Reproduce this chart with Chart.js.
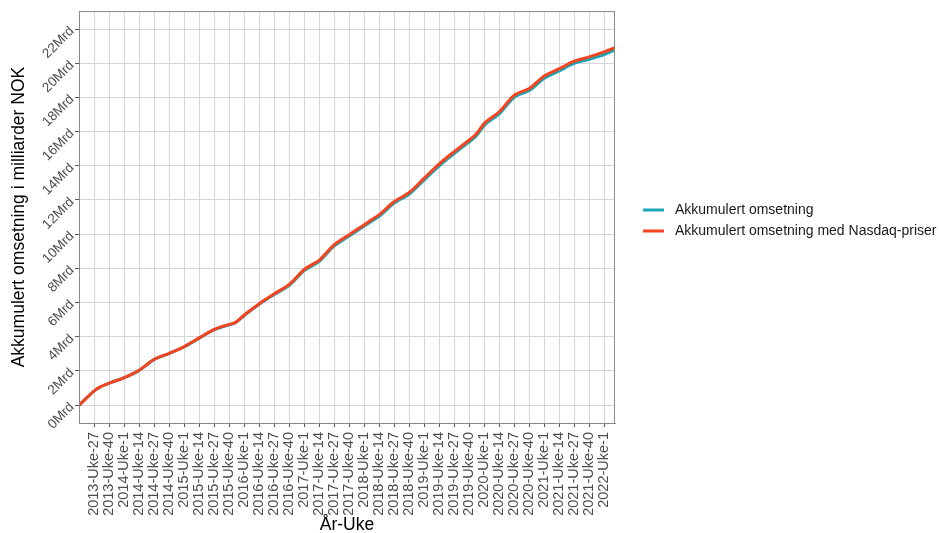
<!DOCTYPE html>
<html>
<head>
<meta charset="utf-8">
<script src="https://cdn.jsdelivr.net/npm/chart.js@4"></script>
<style>
  html, body { margin: 0; padding: 0; background: #fff; }
  #wrap { width: 939px; height: 533px; }
</style>
</head>
<body>
<div id="wrap"><canvas id="chart" width="939" height="533"></canvas></div>
<script>
// uke-indeks relativt til 2013-Uke-27
const uker = [-13, 0, 4, 13, 26, 39, 52, 65, 78, 91, 104, 117, 122, 130, 143, 156, 169, 182, 195, 208, 221, 234, 240, 247, 260, 273, 286, 299, 312, 325, 331, 338, 351, 364, 377, 390, 403, 416, 429, 442, 451];

// milliarder NOK
const omsetning = [0, 0.83, 1.02, 1.28, 1.6, 2.03, 2.67, 3.02, 3.41, 3.91, 4.41, 4.7, 4.8, 5.24, 5.9, 6.47, 7.01, 7.87, 8.41, 9.31, 9.89, 10.47, 10.74, 11.05, 11.82, 12.35, 13.18, 14.0, 14.72, 15.4, 15.75, 16.36, 17.04, 18.01, 18.4, 19.12, 19.55, 19.99, 20.23, 20.51, 20.76];
const omsetningNasdaq = [0, 0.83, 1.02, 1.28, 1.61, 2.04, 2.68, 3.03, 3.42, 3.93, 4.43, 4.72, 4.82, 5.27, 5.93, 6.51, 7.06, 7.93, 8.48, 9.39, 9.97, 10.55, 10.83, 11.14, 11.91, 12.44, 13.28, 14.11, 14.83, 15.51, 15.86, 16.48, 17.16, 18.13, 18.52, 19.25, 19.68, 20.12, 20.37, 20.66, 20.9];

const xTickUker = [0, 13, 26, 39, 52, 65, 78, 91, 104, 117, 130, 143, 156, 169, 182, 195, 208, 221, 234, 247, 260, 273, 286, 299, 312, 325, 338, 351, 364, 377, 390, 403, 416, 429, 442];
const xTickLabels = [
  "2013-Uke-27", "2013-Uke-40",
  "2014-Uke-1", "2014-Uke-14", "2014-Uke-27", "2014-Uke-40",
  "2015-Uke-1", "2015-Uke-14", "2015-Uke-27", "2015-Uke-40",
  "2016-Uke-1", "2016-Uke-14", "2016-Uke-27", "2016-Uke-40",
  "2017-Uke-1", "2017-Uke-14", "2017-Uke-27", "2017-Uke-40",
  "2018-Uke-1", "2018-Uke-14", "2018-Uke-27", "2018-Uke-40",
  "2019-Uke-1", "2019-Uke-14", "2019-Uke-27", "2019-Uke-40",
  "2020-Uke-1", "2020-Uke-14", "2020-Uke-27", "2020-Uke-40",
  "2021-Uke-1", "2021-Uke-14", "2021-Uke-27", "2021-Uke-40",
  "2022-Uke-1"
];
const yTicks = [0, 2, 4, 6, 8, 10, 12, 14, 16, 18, 20, 22];

const serier = ["Akkumulert omsetning", "Akkumulert omsetning med Nasdaq-priser"];
const farger = ["#1ba6b6", "#f5431d"];

const FONT = "'Liberation Sans', Arial, sans-serif";

// ramme rundt plottet + legende til høyre
const panelPlugin = {
  id: "panel",
  afterDraw(chart) {
    const { ctx, chartArea: a } = chart;
    ctx.save();
    ctx.strokeStyle = "#8a8a8a";
    ctx.lineWidth = 1;
    ctx.strokeRect(a.left + 0.5, a.top + 0.5, a.right - a.left - 1, a.bottom - a.top);

    ctx.font = "14px " + FONT;
    ctx.textBaseline = "middle";
    ctx.fillStyle = "#1a1a1a";
    const x0 = 643, y0 = 210, dy = 21;
    serier.forEach((navn, i) => {
      const y = y0 + i * dy;
      ctx.strokeStyle = farger[i];
      ctx.lineWidth = 3;
      ctx.beginPath();
      ctx.moveTo(x0, y);
      ctx.lineTo(x0 + 21, y);
      ctx.stroke();
      ctx.fillText(navn, x0 + 32, y);
    });
    ctx.restore();
  }
};

new Chart(document.getElementById("chart"), {
  type: "line",
  data: {
    datasets: [
      {
        label: serier[0],
        data: uker.map((u, i) => ({ x: u, y: omsetning[i] })),
        borderColor: farger[0],
        borderWidth: 3,
        pointRadius: 0,
        cubicInterpolationMode: "monotone",
        order: 2
      },
      {
        label: serier[1],
        data: uker.map((u, i) => ({ x: u, y: omsetningNasdaq[i] })),
        borderColor: farger[1],
        borderWidth: 3,
        pointRadius: 0,
        cubicInterpolationMode: "monotone",
        order: 1
      }
    ]
  },
  options: {
    responsive: false,
    animation: false,
    layout: { padding: { left: 0, top: 11, right: 324, bottom: 0 } },
    plugins: {
      legend: { display: false },
      tooltip: { enabled: false }
    },
    scales: {
      x: {
        type: "linear",
        min: -13.26,
        max: 451.3,
        afterBuildTicks: (s) => { s.ticks = xTickUker.map(v => ({ value: v })); },
        afterFit: (s) => { s.height = 110; },
        grid: { color: "#d6d6d6", tickColor: "#555", tickLength: 4 },
        border: { display: true, color: "#8a8a8a" },
        ticks: {
          autoSkip: false,
          minRotation: 90,
          maxRotation: 90,
          padding: 5,
          color: "#4d4d4d",
          font: { family: FONT, size: 14.5 },
          callback: (v, i) => xTickLabels[i]
        },
        title: {
          display: true,
          text: "År-Uke",
          color: "#000",
          font: { family: FONT, size: 17.5 },
          padding: { top: 0, bottom: -3 }
        }
      },
      y: {
        min: -1.05,
        max: 23.05,
        afterBuildTicks: (s) => { s.ticks = yTicks.map(v => ({ value: v })); },
        afterFit: (s) => { s.width = 79; },
        grid: { color: "#d6d6d6", tickColor: "#555", tickLength: 4 },
        border: { display: true, color: "#8a8a8a" },
        ticks: {
          minRotation: 45,
          maxRotation: 45,
          padding: 3,
          color: "#4d4d4d",
          font: { family: FONT, size: 13.5 },
          callback: (v) => v + "Mrd"
        },
        title: {
          display: true,
          text: "Akkumulert omsetning i milliarder NOK",
          color: "#000",
          font: { family: FONT, size: 17.5 },
          padding: { top: 9, bottom: 0 }
        }
      }
    }
  },
  plugins: [panelPlugin]
});
</script>
</body>
</html>
